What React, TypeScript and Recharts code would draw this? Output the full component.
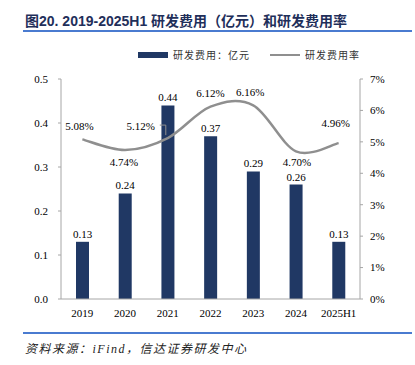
import { ComposedChart, Bar, Line, XAxis, YAxis, LabelList } from "recharts";

const years = ["2019", "2020", "2021", "2022", "2023", "2024", "2025H1"];
const rdExpense = [0.13, 0.24, 0.44, 0.37, 0.29, 0.26, 0.13];
const rdRate = [5.08, 4.74, 5.12, 6.12, 6.16, 4.7, 4.96];
const leftTicks = [0, 0.1, 0.2, 0.3, 0.4, 0.5];
const rightTicks = [0, 1, 2, 3, 4, 5, 6, 7];

const data = years.map((y, i) => ({ year: y, expense: rdExpense[i], rate: rdRate[i] }));

// label offsets for the rate line (dx, dy from the point)
const rateOffsets: [number, number][] = [
  [-3, -13],
  [-1, 12],
  [-27, -12],
  [0, -14],
  [-3, -13],
  [1, 11],
  [-3, -20],
];

const NAVY = "#203864";
const GREY = "#8f8f8f";
const serif = "'Liberation Serif', 'Times New Roman', serif";

// Excel-like smoothed line (Catmull-Rom through the points)
const smoothCurve = (context: any) => {
  let pts: [number, number][] = [];
  return {
    areaStart() {},
    areaEnd() {},
    lineStart() {
      pts = [];
    },
    point(x: number, y: number) {
      pts.push([+x, +y]);
    },
    lineEnd() {
      if (!pts.length) return;
      context.moveTo(pts[0][0], pts[0][1]);
      for (let i = 0; i < pts.length - 1; i++) {
        const p0 = pts[i - 1] || pts[i];
        const p1 = pts[i];
        const p2 = pts[i + 1];
        const p3 = pts[i + 2] || p2;
        context.bezierCurveTo(
          p1[0] + (p2[0] - p0[0]) / 6,
          p1[1] + (p2[1] - p0[1]) / 6,
          p2[0] - (p3[0] - p1[0]) / 6,
          p2[1] - (p3[1] - p1[1]) / 6,
          p2[0],
          p2[1]
        );
      }
    },
  };
};

const RateLabel = (props: any) => {
  const { x, y, index, value } = props;
  const [dx, dy] = rateOffsets[index] || [0, -12];
  return (
    <g>
      {index === 2 && (
        <path d={`M${x - 8},${y - 13} L${x - 2},${y - 13} L${x - 2},${y - 3}`} stroke={GREY} strokeWidth={1} fill="none" />
      )}
      <text
        x={x + dx}
        y={y + dy}
        textAnchor="middle"
        dominantBaseline="central"
        fontSize={11}
        fontFamily={serif}
        fill="#000"
      >
        {value.toFixed(2)}%
      </text>
    </g>
  );
};

export default function App() {
  return (
    <div style={{ position: "absolute", left: 0, top: 0, width: 415, height: 365, background: "#fff" }}>
      <div
        style={{
          position: "absolute",
          left: 25,
          top: 12,
          fontSize: 14,
          fontWeight: "bold",
          color: "#1f2f5a",
          fontFamily: "'Liberation Sans', Arial, 'Noto Sans CJK SC', sans-serif",
          whiteSpace: "nowrap",
          lineHeight: "18px",
        }}
      >
        图20. 2019-2025H1 研发费用（亿元）和研发费用率
      </div>
      <div style={{ position: "absolute", left: 23, top: 30, width: 389, height: 1.5, background: "#4a7bd0" }} />

      {/* legend */}
      <div style={{ position: "absolute", left: 138, top: 52, width: 30, height: 6, background: NAVY }} />
      <div
        style={{
          position: "absolute",
          left: 173,
          top: 47,
          fontSize: 10,
          letterSpacing: 1,
          color: "#333",
          fontFamily: "'Noto Sans CJK SC', sans-serif",
          whiteSpace: "nowrap",
          lineHeight: "16px",
        }}
      >
        研发费用：亿元
      </div>
      <div style={{ position: "absolute", left: 270, top: 54, width: 30, height: 2, background: GREY }} />
      <div
        style={{
          position: "absolute",
          left: 305,
          top: 47,
          fontSize: 10,
          letterSpacing: 1,
          color: "#333",
          fontFamily: "'Noto Sans CJK SC', sans-serif",
          whiteSpace: "nowrap",
          lineHeight: "16px",
        }}
      >
        研发费用率
      </div>

      <div style={{ position: "absolute", left: 0, top: 0 }}>
        <ComposedChart width={415} height={365} data={data} margin={{ top: 79, right: 0, bottom: 46, left: 0 }}>
          <XAxis
            dataKey="year"
            axisLine={{ stroke: "#a6a6a6" }}
            tickLine={false}
            tickMargin={4}
            height={20}
            interval={0}
            tick={{ fontSize: 11, fontFamily: serif, fill: "#000" }}
          />
          <YAxis
            yAxisId="left"
            domain={[0, 0.5]}
            ticks={leftTicks}
            width={61}
            axisLine={{ stroke: "#a6a6a6" }}
            tickLine={{ stroke: "#a6a6a6" }}
            tickSize={3}
            tickMargin={10}
            tickFormatter={(v: number) => v.toFixed(1)}
            tick={{ fontSize: 11, fontFamily: serif, fill: "#000" }}
          />
          <YAxis
            yAxisId="right"
            orientation="right"
            domain={[0, 7]}
            ticks={rightTicks}
            width={55}
            axisLine={{ stroke: "#a6a6a6" }}
            tickLine={{ stroke: "#a6a6a6" }}
            tickSize={3}
            tickMargin={7}
            tickFormatter={(v: number) => `${v}%`}
            tick={{ fontSize: 11, fontFamily: serif, fill: "#000" }}
          />
          <Bar yAxisId="left" dataKey="expense" fill={NAVY} barSize={13} isAnimationActive={false}>
            <LabelList
              dataKey="expense"
              position="top"
              offset={4}
              fontSize={11}
              fontFamily={serif}
              fill="#000"
              formatter={(v: number) => v.toFixed(2)}
            />
          </Bar>
          <Line
            yAxisId="right"
            dataKey="rate"
            type={smoothCurve as any}
            stroke={GREY}
            strokeWidth={2.5}
            dot={false}
            isAnimationActive={false}
          >
            <LabelList dataKey="rate" content={RateLabel} />
          </Line>
        </ComposedChart>
      </div>

      <div style={{ position: "absolute", left: 23, top: 332, width: 389, height: 1.5, background: "#4a7bd0" }} />
      <div
        style={{
          position: "absolute",
          left: 25,
          top: 340,
          fontSize: 12,
          fontStyle: "italic",
          letterSpacing: 1.5,
          color: "#222",
          fontFamily: "'Liberation Serif', 'Noto Sans CJK SC', serif",
          whiteSpace: "nowrap",
          lineHeight: "18px",
        }}
      >
        资料来源：iFind，信达证券研发中心
      </div>
    </div>
  );
}
